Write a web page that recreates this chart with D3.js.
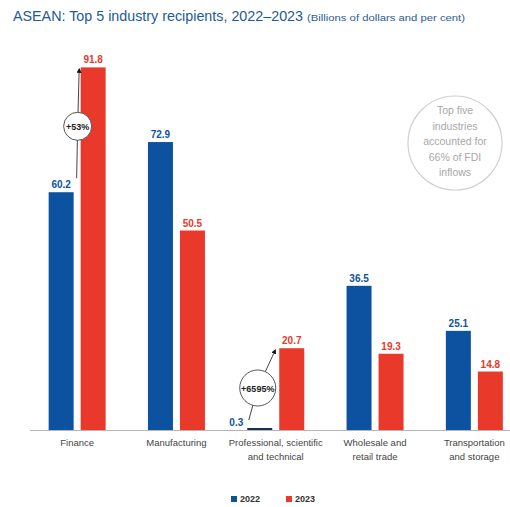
<!DOCTYPE html>
<html>
<head>
<meta charset="utf-8">
<script src="https://cdn.jsdelivr.net/npm/d3@7"></script>
<style>
  html, body { margin: 0; padding: 0; background: #ffffff; }
  svg { display: block; }
  text { font-family: "Liberation Sans Narrow", "Arial Narrow", "Liberation Sans", sans-serif; }
</style>
</head>
<body>
<svg id="chart" width="510" height="507"></svg>
<script>
// Industry categories (two-line labels) and FDI inflows by year, billions of dollars
const categories = ["Finance", "Manufacturing", "Professional, scientific|and technical", "Wholesale and|retail trade", "Transportation|and storage"];
const years = ["2022", "2023"];
const values2022 = [60.2, 72.9, 0.3, 36.5, 25.1];
const values2023 = [91.8, 50.5, 20.7, 19.3, 14.8];
const growthLabels = [{ cat: 0, text: "+53%" }, { cat: 2, text: "+6595%" }];
const noteLines = ["Top five", "industries", "accounted for", "66% of FDI", "inflows"];

const colors = { "2022": "#0d52a0", "2023": "#e8392b" };
const svg = d3.select("#chart");

// Title
svg.append("text").attr("x", 13).attr("y", 21)
  .attr("fill", "#1d5a96").style("font-size", "14px")
  .attr("textLength", 290).attr("lengthAdjust", "spacingAndGlyphs")
  .text("ASEAN: Top 5 industry recipients, 2022\u20132023");
svg.append("text").attr("x", 307).attr("y", 21)
  .attr("fill", "#2a5d93").style("font-size", "9.5px")
  .attr("textLength", 158).attr("lengthAdjust", "spacingAndGlyphs")
  .text("(Billions of dollars and per cent)");

// Scales
const baseY = 430;
const y = d3.scaleLinear().domain([0, 100]).range([baseY, baseY - 395]);
const x0 = d3.scaleBand().domain(d3.range(categories.length)).range([27.5, 524]);
const x1 = d3.scaleBand().domain(years).range([-28.5, 28.5]).paddingInner(0.219);
const center = i => x0(i) + x0.bandwidth() / 2;

const rows = categories.map((c, i) => ({ i, c, v: { "2022": values2022[i], "2023": values2023[i] } }));

// Baseline axis
svg.append("line").attr("x1", 30).attr("x2", 510).attr("y1", baseY + 0.5).attr("y2", baseY + 0.5)
  .attr("stroke", "#b5b5b5").attr("stroke-width", 1.2);

// Bars
const groups = svg.selectAll("g.grp").data(rows).join("g").attr("class", "grp")
  .attr("transform", d => `translate(${center(d.i)},0)`);

groups.selectAll("rect").data(d => years.map(yr => ({ yr, v: d.v[yr], i: d.i })))
  .join("rect")
  .attr("x", d => x1(d.yr))
  .attr("width", x1.bandwidth())
  .attr("y", d => Math.min(y(d.v), baseY - 2))
  .attr("height", d => Math.max(baseY - y(d.v), 2))
  .attr("fill", d => (d.v < 1 ? "#1a2f4f" : colors[d.yr]));

// Value labels
groups.selectAll("text.val").data(d => years.map(yr => ({ yr, v: d.v[yr] })))
  .join("text").attr("class", "val")
  .attr("x", d => d.v < 1 ? x1(d.yr) - 4 : x1(d.yr) + x1.bandwidth() / 2)
  .attr("y", d => d.v < 1 ? baseY - 4 : y(d.v) - 4)
  .attr("text-anchor", d => d.v < 1 ? "end" : "middle")
  .attr("fill", d => colors[d.yr])
  .style("font-size", "10px").style("font-weight", "bold")
  .text(d => d.v.toFixed(1));

// Category labels
const catText = svg.selectAll("text.cat").data(rows).join("text").attr("class", "cat")
  .attr("x", d => center(d.i)).attr("y", 446)
  .attr("text-anchor", "middle").attr("fill", "#444444").style("font-size", "9.5px");
catText.selectAll("tspan").data(d => d.c.split("|").map(t => ({ t, x: center(d.i) })))
  .join("tspan").attr("x", d => d.x).attr("dy", (d, k) => k === 0 ? 0 : 14).text(d => d.t);

// Growth annotations: connector from 2022 label up to the 2023 bar top, with a circled percentage
svg.append("defs").append("marker").attr("id", "arrow")
  .attr("viewBox", "0 0 10 10").attr("refX", 5).attr("refY", 5)
  .attr("markerWidth", 5).attr("markerHeight", 5).attr("orient", "auto-start-reverse")
  .append("path").attr("d", "M0,0 L10,5 L0,10 z").attr("fill", "#111");

growthLabels.forEach(g => {
  const i = g.cat;
  const c = center(i);
  const v0 = values2022[i], v1 = values2023[i];
  const big = g.text.length > 4;
  const r = big ? 18 : 14;
  let start, end, cc;
  if (!big) {
    start = [c - 0.5, y(v0) - 14];
    end = [c + 2, y(v1) + 3];
    cc = [c + 0.5, (start[1] + end[1]) / 2 + 2];
  } else {
    start = [c - 27, baseY - 10];
    end = [c - 1, y(v1) + 3];
    cc = [c - 18, baseY - 42];
  }
  svg.append("path")
    .attr("d", `M${start[0]},${start[1]} L${cc[0]},${cc[1]} L${end[0]},${end[1]}`)
    .attr("fill", "none").attr("stroke", "#444").attr("stroke-width", 1)
    .attr("marker-end", "url(#arrow)");
  svg.append("circle").attr("cx", cc[0]).attr("cy", cc[1]).attr("r", r)
    .attr("fill", "#fff").attr("stroke", "#555").attr("stroke-width", 1);
  svg.append("text").attr("x", cc[0]).attr("y", cc[1] + 3.5).attr("text-anchor", "middle")
    .attr("fill", "#222").style("font-size", "9px").style("font-weight", "bold").text(g.text);
});

// Side note in a circle
const note = svg.append("g").attr("transform", "translate(455,143)");
note.append("circle").attr("r", 47).attr("fill", "none").attr("stroke", "#d0d0d0").attr("stroke-width", 1.2);
note.append("text").attr("text-anchor", "middle").attr("fill", "#a8a8a8").style("font-size", "10.5px")
  .selectAll("tspan").data(noteLines).join("tspan")
  .attr("x", 0).attr("y", (d, k) => -29 + k * 15.5).text(d => d);

// Legend
const legend = svg.append("g").attr("transform", "translate(231,502)");
years.forEach((yr, k) => {
  const gx = k * 55;
  legend.append("rect").attr("x", gx).attr("y", -6).attr("width", 6).attr("height", 6).attr("fill", colors[yr]);
  legend.append("text").attr("x", gx + 9).attr("y", 0).attr("fill", "#333")
    .style("font-size", "9px").style("font-weight", "bold").text(yr);
});
</script>
</body>
</html>
